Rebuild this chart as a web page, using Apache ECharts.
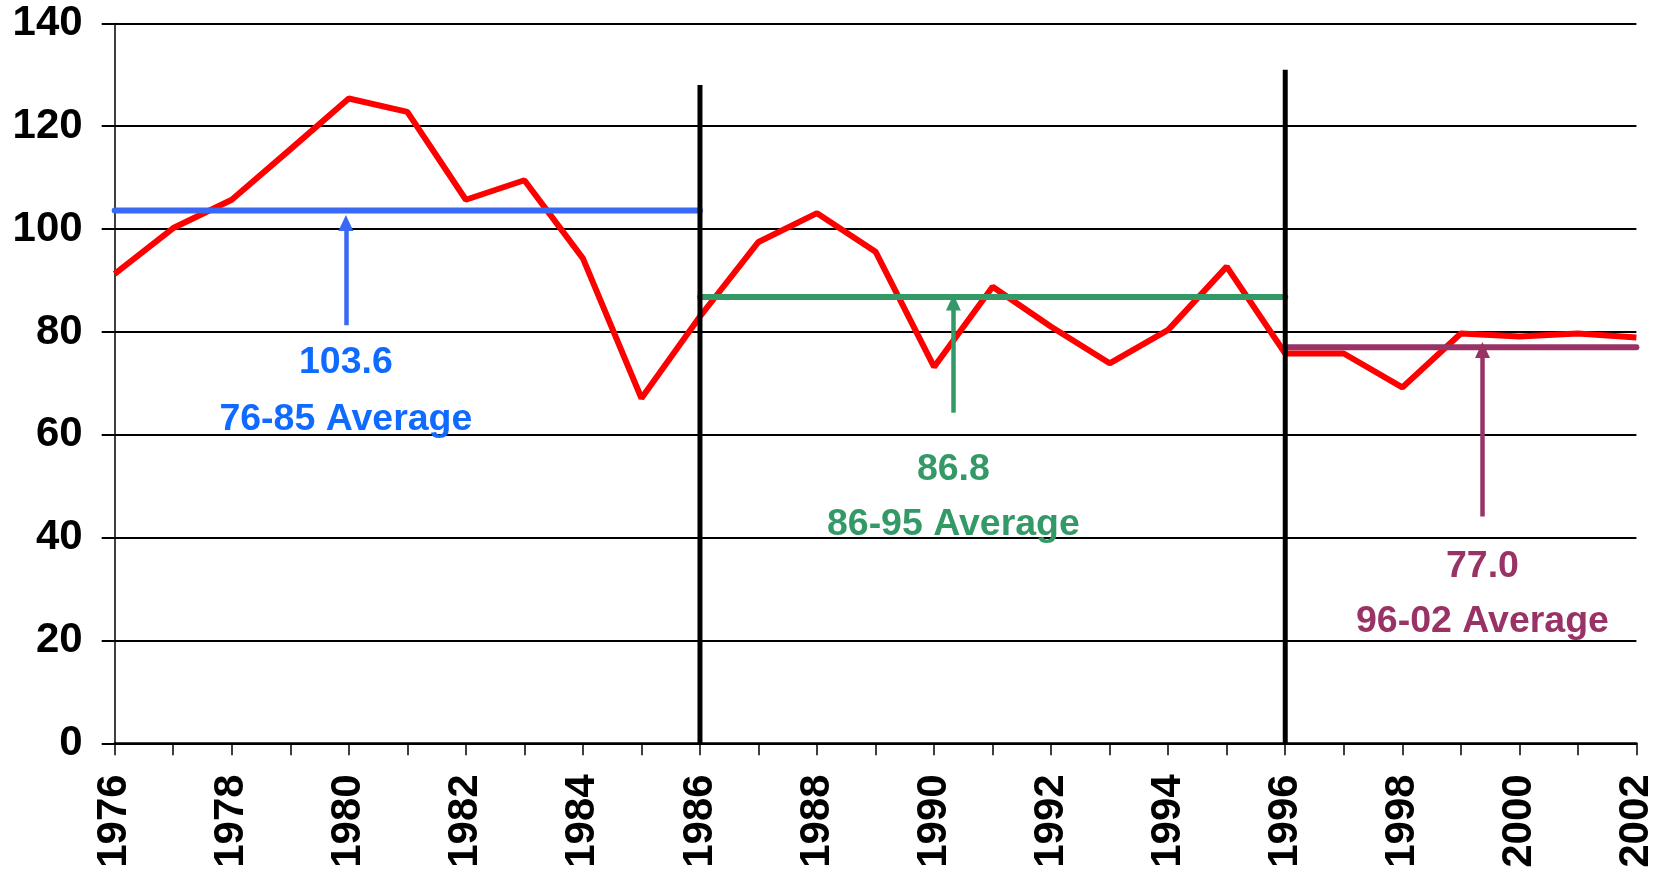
<!DOCTYPE html>
<html>
<head>
<meta charset="utf-8">
<style>
  html, body { margin: 0; padding: 0; background: #fff; }
  #chart { width: 1665px; height: 872px; }
</style>
<script src="https://cdn.jsdelivr.net/npm/echarts@6/dist/echarts.min.js"></script>
</head>
<body>
<div id="chart"></div>
<script>
// data
const years = [1976, 1977, 1978, 1979, 1980, 1981, 1982, 1983, 1984, 1985,
  1986, 1987, 1988, 1989, 1990, 1991, 1992, 1993, 1994, 1995,
  1996, 1997, 1998, 1999, 2000, 2001, 2002];
const values = [91.3, 100.2, 105.7, 115.5, 125.4, 122.8, 105.7, 109.5, 94.3, 67.1,
  83.0, 97.5, 103.1, 95.6, 73.2, 88.8, 81.0, 73.9, 80.4, 92.7,
  75.8, 75.8, 69.2, 79.7, 79.1, 79.7, 78.9];
const periods = ['76-85', '86-95', '96-02'];
const periodStart = [1976, 1986, 1996];
const periodEnd = [1986, 1996, 2002];
const periodAverage = [103.6, 86.8, 77.0];
const dividerYears = [1986, 1996];
const yTicks = [0, 20, 40, 60, 80, 100, 120, 140];

// annotation placement (data units)
const colors = ['#3868f4', '#339966', '#993366'];
const textColors = ['#0f6bff', '#339966', '#993366'];
const dividerTop = [128, 131];
const arrowX = [1979.95, 1990.33, 1999.37];
const arrowFrom = [81.3, 64.3, 44.1];
const arrowTip = [102.7, 87.2, 78.0];
const textY = [[74.1, 62.9], [53.2, 42.5], [34.4, 23.7]];

const FONT = '"Liberation Sans", Arial, Helvetica, sans-serif';

const chart = echarts.init(document.getElementById('chart'));

const series = [];

series.push({
  name: 'value',
  type: 'line',
  data: years.map((y, i) => [y, values[i]]),
  symbol: 'none',
  lineStyle: { color: '#ff0000', width: 6 },
  z: 2,
  silent: true
});

periods.forEach((p, i) => {
  series.push({
    name: p + ' Average',
    type: 'line',
    data: [[periodStart[i], periodAverage[i]], [periodEnd[i], periodAverage[i]]],
    symbol: 'none',
    lineStyle: { color: colors[i], width: 6, cap: 'round' },
    z: 3,
    silent: true,
    markLine: {
      silent: true,
      animation: false,
      symbol: ['none', 'triangle'],
      symbolSize: [15, 16],
      label: { show: false },
      lineStyle: { color: colors[i], width: 4.5, type: 'solid' },
      data: [[
        { coord: [arrowX[i], arrowFrom[i]] },
        { coord: [arrowX[i], arrowTip[i] - 1.5] }
      ]]
    }
  });
});

dividerYears.forEach((y, i) => {
  series.push({
    type: 'line',
    data: [[y, 0], [y, dividerTop[i]]],
    symbol: 'none',
    lineStyle: { color: '#000', width: 5 },
    z: 4,
    silent: true
  });
});

// text labels
const textData = [];
periods.forEach((p, i) => {
  textData.push({ value: [arrowX[i], textY[i][0]], text: periodAverage[i].toFixed(1), c: textColors[i] });
  textData.push({ value: [arrowX[i], textY[i][1]], text: p + ' Average', c: textColors[i] });
});
series.push({
  type: 'scatter',
  symbolSize: 1,
  itemStyle: { color: 'rgba(0,0,0,0)', opacity: 1 },
  silent: true,
  z: 5,
  data: textData.map(d => ({
    value: d.value,
    label: {
      show: true,
      position: 'inside',
      formatter: d.text,
      color: d.c,
      opacity: 1,
      fontSize: 37.5,
      fontWeight: 'bold',
      fontFamily: FONT
    }
  }))
});

const option = {
  animation: false,
  backgroundColor: '#fff',
  grid: { left: 114.7, right: 28.6, top: 23.4, bottom: 128.7, containLabel: false },
  xAxis: {
    type: 'value',
    min: years[0],
    max: years[years.length - 1],
    interval: 1,
    axisLine: { show: true, lineStyle: { color: '#000', width: 2.5 } },
    axisTick: { show: true, inside: false, length: 12, lineStyle: { color: '#000', width: 1.5 } },
    splitLine: { show: false },
    axisLabel: {
      rotate: 90,
      margin: 31,
      fontSize: 42,
      fontWeight: 'bold',
      fontFamily: FONT,
      color: '#000',
      showMinLabel: true,
      showMaxLabel: true,
      formatter: v => (v % 2 === 0 ? String(v) : '')
    }
  },
  yAxis: {
    type: 'value',
    min: yTicks[0],
    max: yTicks[yTicks.length - 1],
    interval: 20,
    axisLine: { show: true, lineStyle: { color: '#000', width: 1.5 } },
    axisTick: { show: true, inside: false, length: 13, lineStyle: { color: '#000', width: 2 } },
    splitLine: { show: true, lineStyle: { color: '#000', width: 2 } },
    axisLabel: {
      margin: 32,
      fontSize: 42,
      fontWeight: 'bold',
      fontFamily: FONT,
      color: '#000'
    }
  },
  series: series
};

chart.setOption(option);
</script>
</body>
</html>
